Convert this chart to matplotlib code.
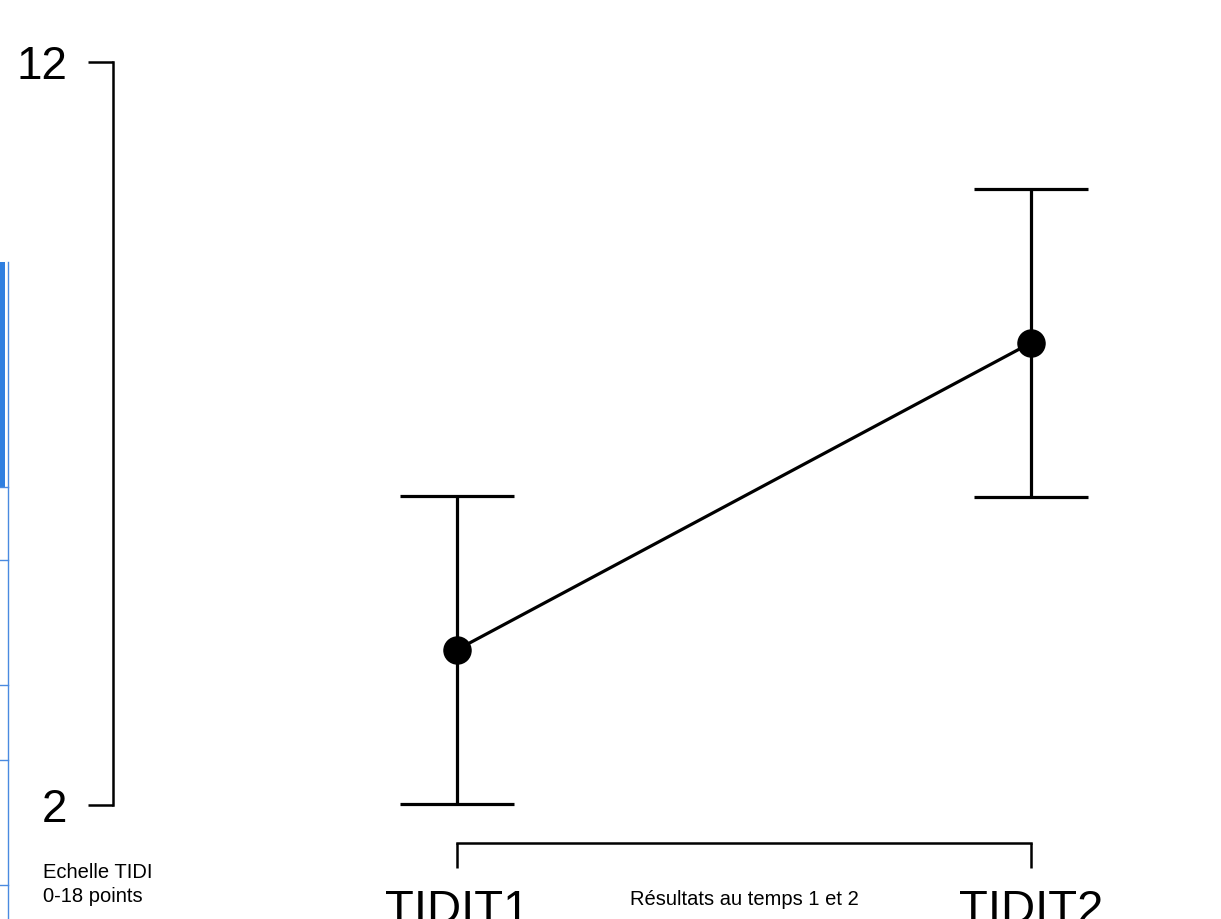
import matplotlib
matplotlib.use('Agg')
import matplotlib.pyplot as plt
from matplotlib.patches import Rectangle
from matplotlib.lines import Line2D

# data
times = ['TIDIT1', 'TIDIT2']
means = [4.09, 8.22]
errors = [2.07, 2.07]
y_ticks = [2, 12]

W, H = 1221, 919
fig = plt.figure(figsize=(W / 100, H / 100), dpi=100)
ax = fig.add_axes([0, 0, 1, 1])

x = [1, 2]
ax.errorbar(x, means, yerr=errors, fmt='o-', color='black', lw=2.3,
            elinewidth=2.3, capsize=41, capthick=2.3, markersize=19.5)

# pixel mapping of the reference: x=1 -> 457px, x=2 -> 1031px ; y=2 -> 805px, y=12 -> 62px
ax.set_xlim(1 - 457 / 574, 2 + (W - 1031) / 574)
ax.set_ylim(2 - (H - 805) / 74.3, 2 + 805 / 74.3)

for s in ['top', 'right']:
    ax.spines[s].set_visible(False)
ax.spines['left'].set_position(('data', 1 - (457 - 113) / 574))
ax.spines['bottom'].set_position(('data', 2 - (843 - 805) / 74.3))
ax.spines['left'].set_bounds(2, 12)
ax.spines['bottom'].set_bounds(1, 2)
for s in ['left', 'bottom']:
    ax.spines[s].set_linewidth(1.8)

ax.set_yticks(y_ticks)
ax.set_yticklabels([str(v) for v in y_ticks], fontsize=33, family='Liberation Sans')
ax.set_xticks(x)
ax.set_xticklabels(times, fontsize=34, family='Liberation Sans')
ax.tick_params(axis='y', length=18, width=1.8, pad=15)
ax.tick_params(axis='x', length=18, width=1.8, pad=15)

ax.text(1.5, 2 - (905 - 805) / 74.3, 'Résultats au temps 1 et 2', ha='center',
        va='baseline', fontsize=14.5, family='Liberation Sans')
ax.text(1 - (457 - 43) / 574, 2 - (902 - 805) / 74.3, 'Echelle TIDI\n0-18 points',
        ha='left', va='baseline', fontsize=14.5, family='Liberation Sans', linespacing=1.3)

# blue strip at the left edge (screenshot artifact)
fig.add_artist(Rectangle((0, 1 - 487 / H), 5 / W, (487 - 262) / H,
                         transform=fig.transFigure, color='#2f7fe0', lw=0))
fig.add_artist(Line2D([8 / W, 8 / W], [0, 1 - 262 / H], transform=fig.transFigure,
                      color='#4a8ae0', lw=1))
for yp in [487, 560, 685, 760, 885]:
    fig.add_artist(Line2D([0, 8 / W], [1 - yp / H, 1 - yp / H], transform=fig.transFigure,
                          color='#4a8ae0', lw=1))

fig.savefig('out.png', dpi=100)
plt.close(fig)
